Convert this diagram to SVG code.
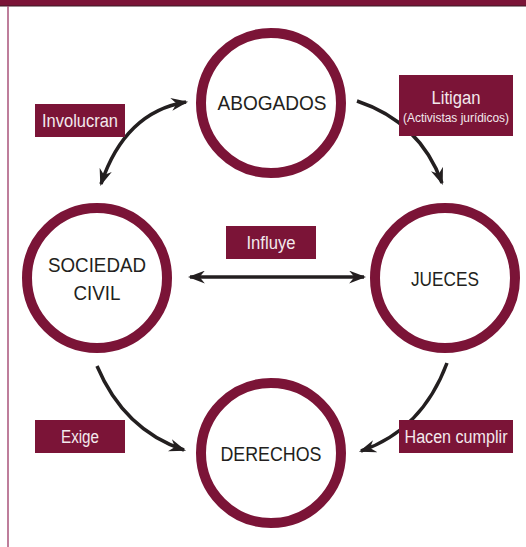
<svg xmlns="http://www.w3.org/2000/svg" width="526" height="547" viewBox="0 0 526 547">
<defs>
<marker id="ah" viewBox="0 0 16 12" refX="14" refY="6" markerWidth="17" markerHeight="13" markerUnits="userSpaceOnUse" orient="auto-start-reverse">
<path d="M0,0 L16,6 L0,12 L5,6 Z" fill="#231f20"/>
</marker>
<style>
.node circle{fill:#fff;stroke:#7b1437;stroke-width:10}
.nt{font-family:"Liberation Sans",Arial,sans-serif;font-size:21px;fill:#231f20;text-anchor:middle}
.lb rect{fill:#7b1437}
.lt{font-family:"Liberation Sans",Arial,sans-serif;font-size:18px;fill:#f3e9ed;text-anchor:middle}
.ls{font-size:12px}
.c{fill:none;stroke:#231f20;stroke-width:3.5}
</style>
</defs>
<rect x="0" y="0" width="526" height="547" fill="#fff"/>
<rect x="0" y="0" width="526" height="6" fill="#7b1437"/>
<line x1="0" y1="6" x2="526" y2="6" stroke="#3a1a24" stroke-width="1"/>
<line x1="8" y1="6" x2="8" y2="547" stroke="#a8537a" stroke-width="1.5"/>

<g id="connectors">
<path class="c" d="M186,102 Q125,112 101,184" marker-start="url(#ah)" marker-end="url(#ah)"/>
<path class="c" d="M357,101 Q420,122 442,183" marker-end="url(#ah)"/>
<path class="c" d="M97,366 Q124,430 184,450" marker-end="url(#ah)"/>
<path class="c" d="M447,363 Q422,430 361,451" marker-end="url(#ah)"/>
<path class="c" d="M190,277 L364,277" marker-start="url(#ah)" marker-end="url(#ah)"/>
</g>

<g id="abogados" class="node">
<circle cx="271" cy="103" r="70"/>
<text class="nt" x="272" y="110" textLength="109" lengthAdjust="spacingAndGlyphs">ABOGADOS</text>
</g>
<g id="sociedad" class="node">
<circle cx="97" cy="278" r="70"/>
<text class="nt" x="97" y="272" textLength="98" lengthAdjust="spacingAndGlyphs">SOCIEDAD</text>
<text class="nt" x="97" y="300" textLength="47" lengthAdjust="spacingAndGlyphs">CIVIL</text>
</g>
<g id="jueces" class="node">
<circle cx="445" cy="278" r="70"/>
<text class="nt" x="445" y="286" textLength="68" lengthAdjust="spacingAndGlyphs">JUECES</text>
</g>
<g id="derechos" class="node">
<circle cx="271" cy="453" r="70"/>
<text class="nt" x="271" y="461" textLength="101" lengthAdjust="spacingAndGlyphs">DERECHOS</text>
</g>

<g id="lbl-involucran" class="lb">
<rect x="35" y="104" width="90" height="33"/>
<text class="lt" x="80" y="127" textLength="76" lengthAdjust="spacingAndGlyphs">Involucran</text>
</g>
<g id="lbl-litigan" class="lb">
<rect x="399" y="75" width="114" height="61"/>
<text class="lt" x="456" y="104" textLength="49" lengthAdjust="spacingAndGlyphs">Litigan</text>
<text class="lt ls" x="456" y="122" textLength="106" lengthAdjust="spacingAndGlyphs">(Activistas jurídicos)</text>
</g>
<g id="lbl-influye" class="lb">
<rect x="226" y="226" width="90" height="33"/>
<text class="lt" x="271" y="249" textLength="49" lengthAdjust="spacingAndGlyphs">Influye</text>
</g>
<g id="lbl-exige" class="lb">
<rect x="35" y="420" width="90" height="33"/>
<text class="lt" x="80" y="443" textLength="38" lengthAdjust="spacingAndGlyphs">Exige</text>
</g>
<g id="lbl-hacen" class="lb">
<rect x="399" y="420" width="114" height="33"/>
<text class="lt" x="456" y="443" textLength="103" lengthAdjust="spacingAndGlyphs">Hacen cumplir</text>
</g>
</svg>
